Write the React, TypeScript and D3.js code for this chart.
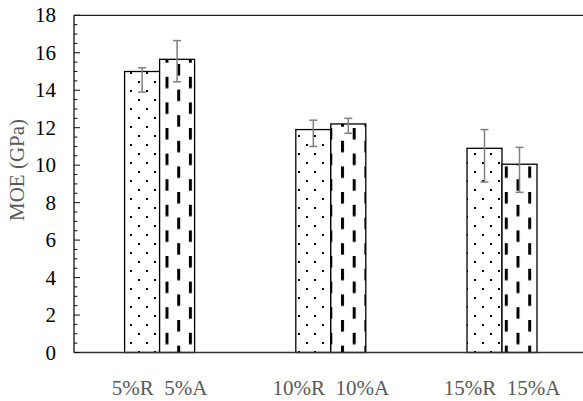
import React from "react";
import * as d3 from "d3";

// Modulus of elasticity by fibre content, R and A treatments
const categories = ["5%R  5%A", "10%R  10%A", "15%R  15%A"];
const seriesR = [15.0, 11.9, 10.9];
const seriesA = [15.65, 12.2, 10.05];
const errPlusR = [0.2, 0.5, 1.0];
const errMinusR = [1.1, 0.9, 1.8];
const errPlusA = [1.0, 0.3, 0.9];
const errMinusA = [1.2, 0.5, 1.5];
const yTicks = [0, 2, 4, 6, 8, 10, 12, 14, 16, 18];

const W = 583;
const H = 401;
const textStyle: React.CSSProperties = {
  fontFamily: '"Liberation Serif", "DejaVu Serif", serif',
  whiteSpace: "pre",
};

export default function App() {
  const x = d3.scaleBand<string>().domain(categories).range([74, 587.6]).padding(0);
  const y = d3.scaleLinear().domain([0, 18]).range([352.5, 15.3]);
  const barW = 35;
  const minorTicks = d3.range(0, 18.01, 0.5);

  const series = [
    { vals: seriesR, plus: errPlusR, minus: errMinusR, fill: "url(#dots)", off: -barW },
    { vals: seriesA, plus: errPlusA, minus: errMinusA, fill: "url(#dashes)", off: 0 },
  ];

  return (
    <svg
      width={W}
      height={H}
      style={{ position: "absolute", left: 0, top: 0, background: "#fff" }}
    >
      <defs>
        <pattern id="dots" patternUnits="userSpaceOnUse" width={16} height={18} x={130} y={0}>
          <rect width={16} height={18} fill="#fff" />
          <rect x={0} y={0} width={2} height={2} fill="#000" />
          <rect x={8} y={9} width={2} height={2} fill="#000" />
        </pattern>
        <pattern id="dashes" patternUnits="userSpaceOnUse" width={23.4} height={25.6} x={165.5} y={0}>
          <rect width={23.4} height={25.6} fill="#fff" />
          <rect x={0} y={0} width={3} height={11.5} fill="#000" />
          <rect x={11.7} y={12.8} width={3} height={11.5} fill="#000" />
        </pattern>
      </defs>

      {/* bars */}
      {series.map((s, si) =>
        categories.map((c, i) => {
          const cx = (x(c) as number) + x.bandwidth() / 2;
          return (
            <rect
              key={`b${si}-${i}`}
              x={cx + s.off}
              y={y(s.vals[i])}
              width={barW}
              height={y(0) - y(s.vals[i])}
              fill={s.fill}
              stroke="#000"
              strokeWidth={1.3}
            />
          );
        })
      )}

      {/* error bars */}
      {series.map((s, si) =>
        categories.map((c, i) => {
          const cx = (x(c) as number) + x.bandwidth() / 2 + s.off + barW / 2;
          const hi = y(s.vals[i] + s.plus[i]);
          const lo = y(s.vals[i] - s.minus[i]);
          return (
            <g key={`e${si}-${i}`} stroke="#808080" strokeWidth={1.5}>
              <line x1={cx} x2={cx} y1={hi} y2={lo} />
              <line x1={cx - 4} x2={cx + 4} y1={hi} y2={hi} />
              <line x1={cx - 4} x2={cx + 4} y1={lo} y2={lo} />
            </g>
          );
        })
      )}

      {/* frame lines */}
      <line x1={74} x2={W} y1={y(18)} y2={y(18)} stroke="#222" strokeWidth={1.3} />
      <line x1={74} x2={W} y1={y(0)} y2={y(0)} stroke="#333" strokeWidth={1.3} />
      <line x1={74} x2={74} y1={y(18)} y2={y(0)} stroke="#111" strokeWidth={1.3} />

      {/* inward ticks */}
      {minorTicks.map((t) => (
        <line
          key={`t${t}`}
          x1={74}
          x2={t % 2 === 0 ? 80 : 77.5}
          y1={y(t)}
          y2={y(t)}
          stroke="#111"
          strokeWidth={1}
        />
      ))}

      {/* y tick labels */}
      {yTicks.map((t) => (
        <text key={`l${t}`} x={56} y={y(t) + 7} textAnchor="end" fontSize={21} fill="#000" style={textStyle}>
          {t}
        </text>
      ))}

      {/* x category labels */}
      {categories.map((c) => (
        <text
          key={c}
          x={(x(c) as number) + x.bandwidth() / 2}
          y={395}
          textAnchor="middle"
          fontSize={21}
          fill="#595959"
          style={textStyle}
        >
          {c}
        </text>
      ))}

      {/* y axis title */}
      <text
        transform="translate(24,170) rotate(-90)"
        textAnchor="middle"
        fontSize={21}
        fill="#595959"
        style={textStyle}
      >
        MOE (GPa)
      </text>
    </svg>
  );
}
